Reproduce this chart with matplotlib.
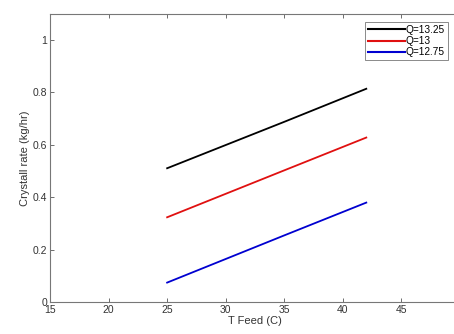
import matplotlib
matplotlib.use("Agg")
import matplotlib.pyplot as plt

plt.rcParams['font.family'] = ['Liberation Sans', 'DejaVu Sans']

t_feed = [25, 35, 42]
q_labels = ['Q=13.25', 'Q=13', 'Q=12.75']
rate_1325 = [0.510, 0.687, 0.813]
rate_13 = [0.323, 0.502, 0.627]
rate_1275 = [0.074, 0.254, 0.379]
colors = ['#000000', '#e01010', '#0000d0']

xticks = [15, 20, 25, 30, 35, 40, 45, 50]
yticks = [0, 0.2, 0.4, 0.6, 0.8, 1]

fig = plt.figure(figsize=(4.54, 3.34), dpi=100)
ax = fig.add_axes([50/454, 32/334, 410/454, 288.5/334])

for ys, c, lab in zip([rate_1325, rate_13, rate_1275], colors, q_labels):
    ax.plot(t_feed, ys, color=c, lw=1.3, label=lab)

ax.set_xlim(15, 50)
ax.set_ylim(0, 1.1)
ax.set_xticks(xticks)
ax.set_yticks(yticks)
ax.set_yticklabels(['0', '0.2', '0.4', '0.6', '0.8', '1'])
ax.tick_params(direction='in', length=3, width=0.6, color='#555555',
               labelsize=7.5, labelcolor='#333333', top=True, right=True, pad=2)
for s in ax.spines.values():
    s.set_color('#777777')
    s.set_linewidth(0.8)

ax.set_xlabel('T Feed (C)', fontsize=8, color='#333333', labelpad=1)
ax.set_ylabel('Crystall rate (kg/hr)', fontsize=8, color='#333333', labelpad=2)

leg = ax.legend(loc='upper left', bbox_to_anchor=((365-50)/410, (302-22)/288.5),
                fontsize=7.3, frameon=True, fancybox=False, handlelength=3.6,
                handletextpad=0.1, borderpad=0.3, labelspacing=0.1,
                borderaxespad=0)
leg.get_frame().set_edgecolor('#555555')
leg.get_frame().set_linewidth(0.6)
for line in leg.get_lines():
    line.set_linewidth(1.5)

fig.savefig('out.png', dpi=100)
